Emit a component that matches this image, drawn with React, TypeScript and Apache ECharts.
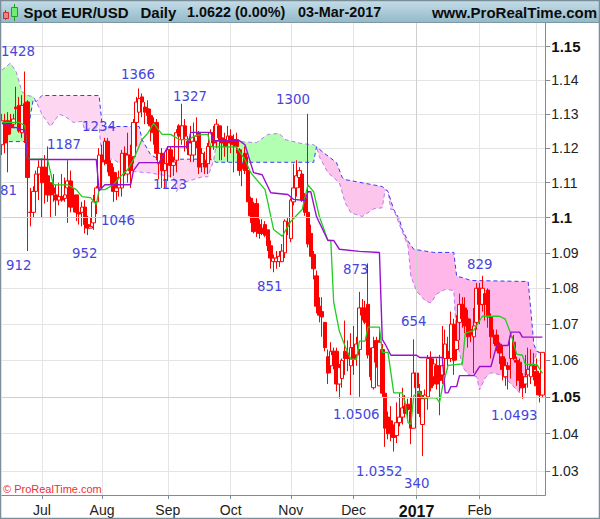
import React, { useEffect, useRef } from "react";
import * as echarts from "echarts";

// [open, close, low, high] per daily bar, 13 Jun 2016 .. 3 Mar 2017
const candles: number[][] = [
  [1.121,1.128,1.118,1.13],[1.1275,1.1215,1.1185,1.13],[1.128,1.124,1.113,1.1305],[1.1275,1.126,1.124,1.13],[1.127,1.1285,1.126,1.13],
  [1.132,1.1315,1.1275,1.138],[1.1325,1.125,1.1245,1.135],[1.1245,1.1325,1.123,1.1355],[1.133,1.126,1.1215,1.1425],[1.1335,1.1115,1.0905,1.134],
  [1.1015,1.1015,1.0975,1.1085],[1.1015,1.1075,1.1,1.109],[1.1075,1.1125,1.105,1.1135],[1.1125,1.1145,1.105,1.1165],[1.1145,1.11,1.1,1.117],
  [1.1145,1.1105,1.104,1.118],[1.112,1.1065,1.1045,1.1205],[1.11,1.1065,1.1,1.11],[1.1085,1.107,1.1045,1.1125],[1.1065,1.105,1.1005,1.1095],
  [1.105,1.106,1.1035,1.11],[1.106,1.105,1.1045,1.1125],[1.1055,1.1065,1.1045,1.1115],[1.1085,1.1105,1.0985,1.1165],[1.1105,1.103,1.1015,1.1135],
  [1.105,1.103,1.1015,1.1085],[1.1065,1.1015,1.099,1.1065],[1.1015,1.101,1.098,1.1025],[1.1015,1.103,1.0975,1.1045],[1.103,1.098,1.0955,1.105],
  [1.098,1.097,1.095,1.1005],[1.097,1.0975,1.097,1.1],[1.0985,1.1045,1.0965,1.1065],[1.1045,1.1085,1.101,1.109],[1.1085,1.118,1.106,1.12],
  [1.118,1.116,1.108,1.121],[1.1165,1.122,1.115,1.123],[1.122,1.1155,1.113,1.123],[1.1155,1.112,1.1095,1.1165],[1.113,1.1075,1.1045,1.1145],
  [1.1075,1.1085,1.105,1.113],[1.1085,1.1115,1.106,1.1135],[1.1085,1.1185,1.106,1.1195],[1.1185,1.1135,1.112,1.1205],[1.1125,1.118,1.11,1.1245],
  [1.118,1.1135,1.1085,1.121],[1.1175,1.1275,1.1155,1.1285],[1.1275,1.1335,1.1205,1.135],[1.1305,1.1345,1.129,1.1375],[1.135,1.1335,1.129,1.136],
  [1.132,1.1305,1.127,1.1335],[1.1315,1.1295,1.127,1.134],[1.1295,1.1265,1.122,1.1315],[1.1265,1.1245,1.121,1.129],[1.1275,1.1185,1.1165,1.1285],
  [1.1155,1.1185,1.111,1.1195],[1.1185,1.1135,1.1085,1.12],[1.1135,1.1155,1.1085,1.1185],[1.1155,1.1195,1.1105,1.1205],[1.1195,1.115,1.1115,1.1205],
  [1.115,1.116,1.112,1.1175],[1.1165,1.1245,1.113,1.1255],[1.1265,1.1235,1.1205,1.127],[1.1225,1.1265,1.121,1.133],[1.1265,1.1235,1.119,1.1285],
  [1.122,1.12,1.118,1.1235],[1.118,1.1215,1.116,1.1265],[1.118,1.122,1.116,1.1275],[1.122,1.1235,1.12,1.129],[1.1245,1.1145,1.1125,1.125],
  [1.1155,1.1185,1.113,1.12],[1.1165,1.1145,1.1125,1.119],[1.1155,1.1205,1.1125,1.1215],[1.1205,1.1245,1.1165,1.1255],[1.1245,1.1215,1.1195,1.1265],
  [1.122,1.127,1.12,1.1285],[1.1265,1.123,1.1165,1.1265],[1.123,1.1215,1.1165,1.125],[1.1225,1.1205,1.1175,1.1245],[1.122,1.1235,1.116,1.1265],
  [1.1235,1.1215,1.1185,1.1255],[1.1225,1.121,1.113,1.124],[1.1225,1.1205,1.1185,1.1245],[1.1195,1.1135,1.112,1.12],[1.1155,1.114,1.109,1.1165],
  [1.1185,1.1135,1.1125,1.1205],[1.1135,1.1045,1.1045,1.1175],[1.1055,1.1005,1.0985,1.106],[1.1035,1.096,1.0955,1.1045],[1.104,1.0975,1.0945,1.1055],
  [1.098,1.0955,1.094,1.0995],[1.097,1.0955,1.095,1.0995],[1.098,1.095,1.0945,1.099],[1.0965,1.092,1.0905,1.0965],[1.092,1.0885,1.0855,1.0935],
  [1.0875,1.0885,1.0845,1.0895],[1.0875,1.0885,1.0855,1.0905],[1.0875,1.089,1.086,1.0905],[1.0875,1.0905,1.0875,1.0925],[1.09,1.099,1.0885,1.0995],
  [1.0985,1.0975,1.095,1.1],[1.094,1.105,1.093,1.1055],[1.1045,1.1085,1.1035,1.1155],[1.1085,1.112,1.106,1.1165],[1.1115,1.1135,1.1085,1.1145],
  [1.1125,1.105,1.1045,1.1125],[1.1055,1.1015,1.1005,1.107],[1.1015,1.0925,1.0915,1.13],[1.0955,1.089,1.089,1.098],[1.0895,1.0855,1.0825,1.0905],
  [1.0835,1.075,1.073,1.085],[1.075,1.0725,1.0705,1.0775],[1.0735,1.072,1.0665,1.0775],[1.0705,1.0635,1.0625,1.0705],[1.061,1.0565,1.0535,1.063],
  [1.0585,1.0625,1.0565,1.065],[1.0625,1.0615,1.0575,1.0635],[1.0625,1.0535,1.0515,1.0635],[1.0535,1.058,1.0495,1.059],[1.055,1.06,1.0525,1.0605],
  [1.0625,1.0605,1.056,1.071],[1.0615,1.0605,1.057,1.0655],[1.0585,1.0635,1.0505,1.0675],[1.0635,1.0605,1.056,1.0695],[1.0615,1.0645,1.0585,1.0665],
  [1.063,1.0745,1.05,1.079],[1.0745,1.0725,1.071,1.077],[1.0745,1.0705,1.07,1.0765],[1.0755,1.0615,1.0605,1.087],[1.0625,1.0555,1.0545,1.0635],
  [1.0525,1.0635,1.052,1.0665],[1.0655,1.0595,1.058,1.0665],[1.053,1.065,1.053,1.0685],[1.063,1.051,1.05,1.0645],[1.051,1.0415,1.0365,1.0525],
  [1.0445,1.04,1.0385,1.046],[1.0435,1.0405,1.038,1.0475],[1.0405,1.039,1.0352,1.0425],[1.0395,1.043,1.0375,1.0485],[1.043,1.0445,1.042,1.051],
  [1.0445,1.047,1.0425,1.0525],[1.0475,1.0455,1.0445,1.0505],[1.048,1.0465,1.044,1.0495],[1.046,1.0415,1.0372,1.05],[1.0415,1.0565,1.0415,1.0658],
  [1.0565,1.0525,1.048,1.0605],[1.0515,1.0455,1.0445,1.0535],[1.0425,1.0495,1.034,1.0505],[1.0495,1.0505,1.047,1.052],[1.05,1.0605,1.0465,1.0615],
  [1.0605,1.0525,1.0515,1.0625],[1.0555,1.059,1.053,1.0605],[1.0585,1.0535,1.052,1.0605],[1.0585,1.0545,1.045,1.0615],[1.056,1.0585,1.0535,1.0695],
  [1.0605,1.0645,1.057,1.0685],[1.0625,1.0605,1.0575,1.0665],[1.0605,1.07,1.0595,1.0735],[1.07,1.06,1.056,1.0715],[1.063,1.0655,1.06,1.0725],
  [1.0705,1.0755,1.0655,1.0785],[1.0755,1.0715,1.069,1.0775],[1.0745,1.0695,1.0675,1.0775],[1.0715,1.0665,1.0635,1.074],[1.0685,1.067,1.065,1.0715],
  [1.0665,1.0695,1.0565,1.0745],[1.0705,1.08,1.0685,1.0815],[1.08,1.0755,1.07,1.0815],[1.0755,1.08,1.0735,1.0835],[1.0785,1.0755,1.071,1.0795],
  [1.0795,1.072,1.069,1.08],[1.072,1.0665,1.0605,1.073],[1.0665,1.0665,1.0645,1.0685],[1.067,1.064,1.0625,1.0685],[1.0645,1.062,1.059,1.065],
  [1.061,1.0575,1.0545,1.064],[1.0555,1.0585,1.053,1.0605],[1.0585,1.0575,1.052,1.0595],[1.0605,1.0665,1.055,1.067],[1.065,1.0605,1.06,1.067],
  [1.06,1.0595,1.053,1.061],[1.0595,1.0545,1.0515,1.0605],[1.0555,1.0525,1.0495,1.0565],[1.0535,1.0555,1.051,1.0615],[1.056,1.0575,1.0525,1.0635],
  [1.0555,1.0585,1.0535,1.063],[1.0585,1.0575,1.0545,1.062],[1.057,1.053,1.0505,1.0605],[1.053,1.0505,1.0485,1.0565],[1.0505,1.0622,1.0497,1.0622],
];

// Ichimoku lines: [bar index, price] at each visible vertex
const kijun: number[][] = [
  [0,1.1272],[2,1.127],[3,1.126],[5,1.126],[7,1.1254],[8,1.1254],[9,1.1167],[33,1.1167],[34,1.1077],[36,1.1094],[45,1.1094],[46,1.1135],
  [48,1.1158],[55,1.1158],[58,1.1204],[65,1.1204],[66,1.1246],[73,1.1246],[74,1.1222],[83,1.1222],[85,1.121],[88,1.1129],[91,1.1123],
  [94,1.1071],[100,1.1066],[102,1.1052],[106,1.1049],[107,1.1074],[108,1.1074],[110,1.1003],[114,1.0935],[116,1.0935],[118,1.091],
  [125,1.0904],[132,1.0901],[133,1.0658],[134,1.0645],[136,1.0614],[145,1.0614],[146,1.0608],[154,1.0608],[155,1.0511],[156,1.0511],
  [157,1.0528],[159,1.0528],[160,1.0558],[165,1.0558],[167,1.0583],[171,1.0583],[173,1.0641],[177,1.0641],[178,1.0678],[181,1.0678],
  [182,1.0664],[189,1.0664],
];
const tenkan: number[][] = [
  [0,1.1275],[6,1.1275],[8,1.1266],[9,1.1168],[15,1.1168],[16,1.1167],[18,1.1094],[23,1.1094],[26,1.108],[28,1.106],[31,1.1057],[33,1.1037],
  [34,1.108],[36,1.108],[39,1.1094],[41,1.1114],[44,1.1138],[46,1.1167],[49,1.1225],[51,1.1243],[53,1.1272],[56,1.124],[59,1.124],[62,1.1225],
  [65,1.1225],[68,1.1237],[71,1.124],[72,1.124],[73,1.1204],[82,1.1204],[85,1.1167],[87,1.1129],[92,1.108],[93,1.1043],[95,1.0966],[98,1.0947],
  [101,1.0989],[105,1.1023],[107,1.1094],[109,1.1074],[111,1.1003],[114,1.0935],[115,1.0935],[116,1.0761],[118,1.068],[120,1.0639],[122,1.0603],
  [124,1.0603],[125,1.0653],[127,1.0653],[128,1.0692],[132,1.0692],[133,1.0622],[135,1.0622],[137,1.0511],[140,1.0511],[141,1.0484],[142,1.043],
  [143,1.0426],[144,1.0503],[146,1.0514],[147,1.0497],[152,1.0497],[153,1.0484],[154,1.0525],[156,1.0586],[161,1.059],[162,1.0675],[165,1.0683],
  [168,1.0722],[174,1.0722],[176,1.0714],[178,1.0672],[180,1.0617],[182,1.0614],[183,1.0589],[187,1.0589],[189,1.0564],
];
const senkouA: number[][] = [
  [0,1.1429],[3,1.145],[5,1.1424],[7,1.1366],[9,1.1354],[11,1.1351],[12,1.1336],[14,1.1299],[17,1.1263],[20,1.1299],[22,1.1293],[25,1.1275],
  [28,1.1278],[29,1.1254],[34,1.126],[35,1.1173],[39,1.1167],[46,1.1132],[51,1.1129],[60,1.1117],[61,1.1074],[63,1.11],[67,1.1109],[70,1.1117],
  [72,1.1117],[74,1.1163],[75,1.1216],[83,1.1219],[89,1.1216],[93,1.124],[97,1.1243],[99,1.1225],[105,1.1213],[109,1.121],[110,1.1204],
  [111,1.1175],[114,1.1129],[118,1.11],[120,1.1043],[122,1.1014],[126,1.1003],[130,1.1025],[133,1.1028],[134,1.108],[135,1.1075],[136,1.1023],
  [137,1.1023],[139,1.098],[142,1.0919],[143,1.0834],[145,1.0792],[148,1.0765],[150,1.0759],[152,1.0784],[155,1.0797],[158,1.0794],[159,1.0658],
  [161,1.0583],[163,1.0561],[166,1.0555],[167,1.0519],[169,1.0552],[171,1.0566],[174,1.0561],[176,1.0552],[181,1.0511],[183,1.0566],[186,1.0597],
  [187,1.0622],[189,1.0619],
];
const senkouB: number[][] = [
  [0,1.1219],[9,1.1219],[10,1.1298],[11,1.1343],[12,1.1336],[14,1.1354],[34,1.1354],[35,1.1269],[36,1.1263],[48,1.1263],[49,1.1225],[52,1.1181],
  [55,1.1168],[73,1.1168],[74,1.1163],[75,1.1159],[109,1.1159],[110,1.1204],[112,1.119],[117,1.1158],[119,1.1115],[120,1.1109],[133,1.1089],
  [135,1.1075],[137,1.1023],[139,1.0995],[140,1.0966],[142,1.0933],[144,1.091],[151,1.0901],[158,1.0901],[159,1.0834],[161,1.083],[164,1.0822],
  [184,1.0819],[185,1.0733],[186,1.0644],[187,1.0625],[189,1.0619],
];
const cloudFrom = [0, 12, 74, 110, 137];
const cloudTo = [12, 74, 110, 137, 189];
const cloudColors = ["#b2ffb2", "#fdd6f1", "#b2ffb2", "#fcc6ec", "#ffb6e8"];

const priceTicks = [1.03, 1.04, 1.05, 1.06, 1.07, 1.08, 1.09, 1.1, 1.11, 1.12, 1.13, 1.14, 1.15];
const boldTicks = [1.05, 1.1, 1.15];
const monthBars = [14, 35, 58, 80, 101, 123, 145, 167, 187];
const monthNames = ["Jul", "Aug", "Sep", "Oct", "Nov", "Dec", "2017", "Feb", ""];

const peakLabels = ["1428", "1366", "1327", "1300", "1234", "1187", "1123", "81", "1046", "952", "912", "851", "873", "654", "1.0506", "1.0352", "340", "829", "1.0493"];
const peakLeft = [1, 121, 173, 276, 82, 47, 153, 0, 101, 72, 6, 257, 343, 401, 333, 356, 404, 467, 491];
const peakMid = [50, 73, 95, 98, 125, 143, 183, 189, 219, 252, 264, 285, 268, 320, 413, 470, 482, 263, 414];

const headerTexts = ["Spot EUR/USD", "Daily", "1.0622 (0.00%)", "03-Mar-2017"];
const headerLeft = [23.5, 140.5, 187, 298];
const headerSizes = [15, 15, 14.4, 14.4];

const barCount = 191;
const categories = Array.from({ length: barCount }, (_, i) => {
  const m = monthBars.indexOf(i);
  return m >= 0 ? monthNames[m] : "d" + i;
});

export default function App() {
  const ref = useRef<HTMLDivElement>(null);
  useEffect(() => {
    document.body.style.margin = "0";
    const chart = echarts.init(ref.current!, null, { renderer: "svg" });
    const monthLine = (i: number) => monthBars.includes(i);
    const monthTick = (i: number) => monthBars.includes(i) && monthNames[monthBars.indexOf(i)] !== "";
    const blue = "#4545dd";
    const darkLevels = boldTicks.map((yAxis) => ({ yAxis }));
    chart.setOption({
      animation: false,
      backgroundColor: "#fff",
      grid: { left: 1.9, right: 54.7, top: 23, bottom: 24, containLabel: false },
      xAxis: {
        type: "category",
        data: categories,
        boundaryGap: false,
        axisLine: { show: true, onZero: false, lineStyle: { color: "#7b8e97", width: 1 } },
        axisTick: { interval: monthTick, length: 4, lineStyle: { color: "#7b8e97" } },
        splitLine: { show: true, interval: monthLine, lineStyle: { color: "#e4e4e4", width: 1 } },
        axisLabel: {
          interval: monthLine,
          margin: 8,
          color: "#222",
          fontFamily: "Liberation Sans",
          fontSize: 14,
          hideOverlap: false,
          formatter: (v: string) => (v === "2017" ? "{y|2017}" : v),
          rich: { y: { fontFamily: "Liberation Sans", fontWeight: "bold", fontSize: 16, color: "#111" } },
        },
      },
      yAxis: {
        type: "log",
        position: "right",
        logBase: 10,
        min: 1.0236,
        max: 1.15697,
        axisLine: { show: true, lineStyle: { color: "#7b8e97", width: 1 } },
        axisTick: { show: true, length: 5, customValues: priceTicks, lineStyle: { color: "#7b8e97" } },
        splitLine: { show: true, lineStyle: { color: "#e4e4e4", width: 1 } },
        axisLabel: {
          customValues: priceTicks,
          margin: 6,
          color: "#222",
          fontFamily: "Liberation Sans",
          fontSize: 14,
          formatter: (v: number) => {
            const rounded = Math.round(v * 100) / 100;
            return boldTicks.includes(rounded) ? `{b|${rounded}}` : String(rounded);
          },
          rich: { b: { fontFamily: "Liberation Sans", fontWeight: "bold", fontSize: 15, color: "#111" } },
        },
      },
      series: [
        {
          type: "custom",
          z: 1,
          clip: true,
          data: cloudFrom.map((_, k) => [cloudFrom[k], cloudTo[k], k]),
          encode: { x: [0, 1] },
          markLine: {
            silent: true,
            symbol: "none",
            label: { show: false },
            lineStyle: { color: "#cfcfcf", width: 1, type: "solid" },
            data: [...darkLevels, { xAxis: "2017" }],
          },
          renderItem: (params: any, api: any) => {
            const k = params.dataIndex;
            const inRange = (p: number[]) => p[0] >= cloudFrom[k] && p[0] <= cloudTo[k];
            const upper = senkouA.filter(inRange);
            const lower = senkouB.filter(inRange).reverse();
            return {
              type: "polygon",
              shape: { points: upper.concat(lower).map((p) => api.coord(p)) },
              style: { fill: cloudColors[k], stroke: "none" },
            };
          },
        },
        {
          type: "line", z: 2, data: senkouA, showSymbol: false, symbol: "none",
          lineStyle: { color: "#bb77ee", width: 1, type: [4, 3] },
        },
        {
          type: "line", z: 2, data: senkouB, showSymbol: false, symbol: "none",
          lineStyle: { color: "#3a3af0", width: 1, type: [4, 3] },
        },
        {
          type: "candlestick", z: 3, data: candles, barWidth: 4,
          itemStyle: { color: "#ffffff", color0: "#ff0000", borderColor: "#ff0000", borderColor0: "#ff0000", borderWidth: 1 },
        },
        {
          type: "line", z: 4, data: tenkan, showSymbol: false, symbol: "none",
          lineStyle: { color: "#1fcc1f", width: 1.3 },
        },
        {
          type: "line", z: 5, data: kijun, showSymbol: false, symbol: "none",
          lineStyle: { color: "#9a10d0", width: 1.4 },
        },
      ],
      graphic: [
        {
          type: "rect", z: 20, silent: true,
          shape: { x: 0.5, y: 0.5, width: 599, height: 22 },
          style: {
            stroke: "#7f97a3", lineWidth: 1,
            fill: new echarts.graphic.LinearGradient(0, 0, 0, 1, [
              { offset: 0, color: "#c4dde8" },
              { offset: 1, color: "#93b9c9" },
            ]),
          },
        },
        {
          type: "rect", z: 21, silent: true,
          shape: { x: 0.5, y: 0.5, width: 599, height: 518 },
          style: { fill: "none", stroke: "#7b8e97", lineWidth: 1.5 },
        },
        { type: "line", z: 21, silent: true, shape: { x1: 5.5, y1: 10, x2: 5.5, y2: 20 }, style: { stroke: "#c03030", lineWidth: 1 } },
        { type: "rect", z: 22, silent: true, shape: { x: 3.5, y: 12.5, width: 5, height: 6 }, style: { fill: "#f08080", stroke: "#c03030", lineWidth: 1 } },
        { type: "line", z: 21, silent: true, shape: { x1: 14.5, y1: 4, x2: 14.5, y2: 21 }, style: { stroke: "#20a020", lineWidth: 1 } },
        { type: "rect", z: 22, silent: true, shape: { x: 11.5, y: 7.5, width: 6, height: 9 }, style: { fill: "#70ee70", stroke: "#20a020", lineWidth: 1 } },
        ...headerTexts.map((t, i) => ({
          type: "text", z: 23, silent: true, x: headerLeft[i], y: 12,
          style: { text: t, fill: "#0c0c0c", font: `bold ${headerSizes[i]}px 'Liberation Sans'`, textVerticalAlign: "middle", textAlign: "left" },
        })),
        {
          type: "text", z: 23, silent: true, x: 597, y: 12,
          style: { text: "www.ProRealTime.com", fill: "#0c0c0c", font: "bold 15px 'Liberation Sans'", textVerticalAlign: "middle", textAlign: "right" },
        },
        {
          type: "text", z: 23, silent: true, x: 3, y: 489,
          style: { text: "© ProRealTime.com", fill: "#ee3030", font: "11px 'Liberation Sans'", textVerticalAlign: "middle", textAlign: "left" },
        },
        ...peakLabels.map((t, i) => ({
          type: "text", z: 23, silent: true, x: peakLeft[i], y: peakMid[i],
          style: { text: t, fill: blue, font: "14.8px 'DejaVu Sans Condensed', 'DejaVu Sans'", textVerticalAlign: "middle", textAlign: "left" },
        })),
      ],
    });
    return () => chart.dispose();
  }, []);
  return <div ref={ref} style={{ position: "absolute", left: 0, top: 0, width: 600, height: 519 }} />;
}
